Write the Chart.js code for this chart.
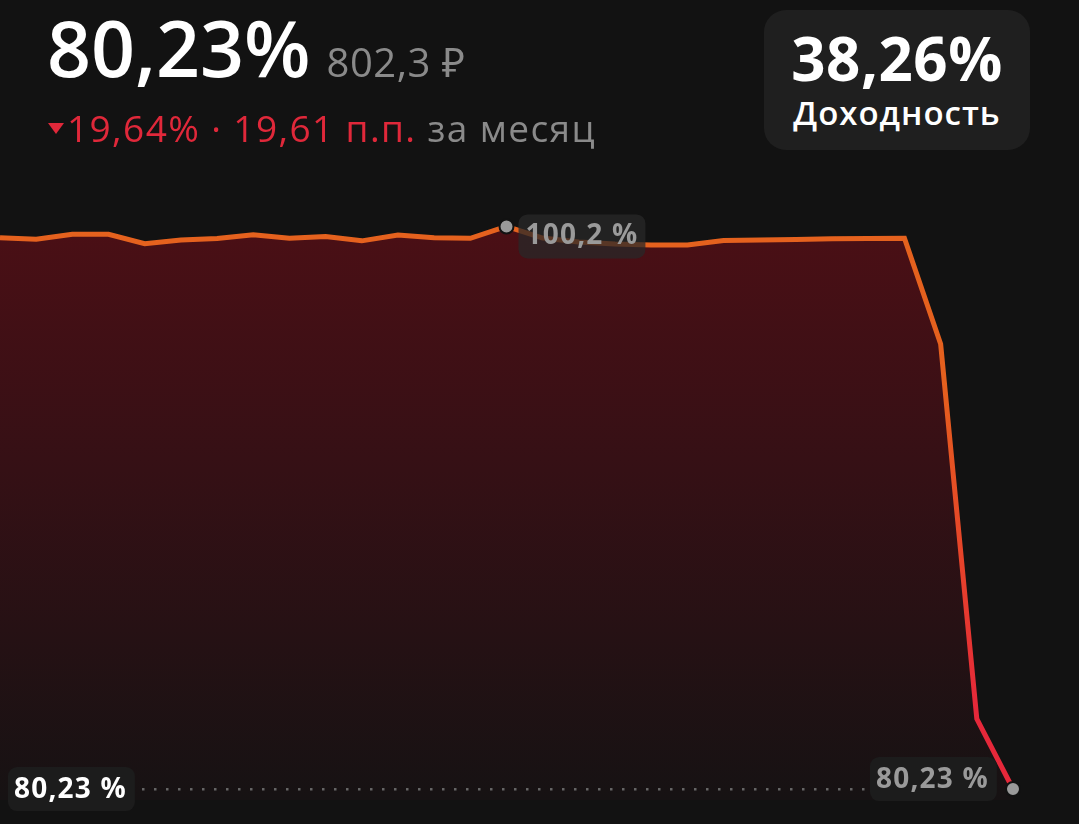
<!DOCTYPE html>
<html lang="ru">
<head>
    <meta charset="UTF-8">
    <title>Доходность</title>
    <style>
        html, body { margin: 0; padding: 0; background: #121212; }
        body { width: 1079px; height: 824px; position: relative; overflow: hidden; font-family: "Open Sans", "Noto Sans", sans-serif; }
        .chart-wrap { position: absolute; left: 0; top: 0; width: 1079px; height: 824px; }
        .value { position: absolute; left: 47px; top: -5px; color: #fff; font-size: 77px; font-weight: 600; letter-spacing: 0; white-space: nowrap; }
        .value small { font-size: 40px; font-weight: 400; color: #8a8a8a; letter-spacing: 0.5px; margin-left: 16px; }
        .change { position: absolute; left: 46px; top: 102px; font-size: 37px; font-weight: 500; color: #e0283a; white-space: nowrap; letter-spacing: 1.4px; }
        .change .tri { display: inline-block; width: 0; height: 0; border-left: 8px solid transparent; border-right: 8px solid transparent; border-top: 11px solid #e0283a; vertical-align: middle; margin: 0 3px 8px 2px; }
        .change .muted { color: #8a8a8a; font-weight: 400; }
        .badge { position: absolute; left: 764px; top: 10px; width: 266px; height: 140px; background: #1f1f1f; border-radius: 22px; color: #fff; text-align: center; }
        .badge .big { font-size: 60px; font-weight: 700; line-height: 1; margin-top: 18px; letter-spacing: 0.5px; }
        .badge .cap { font-size: 33px; font-weight: 600; margin-top: 2px; letter-spacing: 1px; }
    </style>
</head>
<body>

    <div class="chart-wrap"><canvas id="myChart" width="1079" height="824"></canvas></div>

    <div class="value">80,23%<small>802,3 ₽</small></div>
    <div class="change"><span class="tri"></span>19,64% · 19,61 п.п. <span class="muted">за месяц</span></div>
    <div class="badge">
        <div class="big">38,26%</div>
        <div class="cap">Доходность</div>
    </div>

    <script src="https://cdn.jsdelivr.net/npm/chart.js@4.4.1/dist/chart.umd.min.js"></script>
    <script>
        // days of the month
        var days = ['1', '2', '3', '4', '5', '6', '7', '8', '9', '10',
                    '11', '12', '13', '14', '15', '16', '17', '18', '19', '20',
                    '21', '22', '23', '24', '25', '26', '27', '28', '29'];
        // share of invested amount, %
        var values = [99.80, 99.75, 99.92, 99.92, 99.59, 99.72, 99.77, 99.91, 99.78, 99.84,
                      99.69, 99.90, 99.80, 99.78, 100.2, 99.79, 99.65, 99.58, 99.54, 99.54,
                      99.70, 99.72, 99.74, 99.76, 99.77, 99.78, 96.03, 82.72, 80.23];
        var maxIndex = 14;
        var lastIndex = values.length - 1;

        function fmt(v) {
            return String(v).replace('.', ',') + ' %';
        }

        function roundRect(ctx, x, y, w, h, r) {
            ctx.beginPath();
            ctx.moveTo(x + r, y);
            ctx.arcTo(x + w, y, x + w, y + h, r);
            ctx.arcTo(x + w, y + h, x, y + h, r);
            ctx.arcTo(x, y + h, x, y, r);
            ctx.arcTo(x, y, x + w, y, r);
            ctx.closePath();
        }

        // dotted line + value labels
        var labelsPlugin = {
            id: 'labels',
            afterDatasetsDraw: function (chart) {
                var ctx = chart.ctx;
                var xs = chart.scales.x, ys = chart.scales.y;
                var yLast = ys.getPixelForValue(values[lastIndex]);
                var xLast = xs.getPixelForValue(lastIndex);
                var xMax = xs.getPixelForValue(maxIndex);
                var yMax = ys.getPixelForValue(values[maxIndex]);

                ctx.save();
                ctx.font = '700 28px "Open Sans", sans-serif';
                ctx.letterSpacing = '1.2px';
                ctx.textBaseline = 'middle';

                // dotted guide
                ctx.fillStyle = '#666666';
                for (var x = 142; x < xLast - 145; x += 12) {
                    ctx.fillRect(x, yLast - 1, 2.5, 2.5);
                }

                // left label
                var t = fmt(values[lastIndex]);
                var w = ctx.measureText(t).width;
                ctx.fillStyle = '#1c1c1c';
                roundRect(ctx, 8, yLast - 22, w + 14, 44, 9);
                ctx.fill();
                ctx.fillStyle = '#ffffff';
                ctx.fillText(t, 14, yLast + 1);

                // right label
                ctx.fillStyle = '#1c1c1c';
                roundRect(ctx, xLast - 143, yLast - 32, w + 14, 44, 9);
                ctx.fill();
                ctx.fillStyle = '#9a9a9a';
                ctx.fillText(t, xLast - 137, yLast - 9);

                // max label
                var tm = fmt(values[maxIndex]);
                var wm = ctx.measureText(tm).width;
                ctx.fillStyle = 'rgba(40,40,40,0.75)';
                roundRect(ctx, xMax + 12, yMax - 12, wm + 14, 44, 9);
                ctx.fill();
                ctx.fillStyle = '#9a9a9a';
                ctx.fillText(tm, xMax + 19, yMax + 10);
                ctx.restore();
            }
        };

        function createChart() {
            var ctx = document.getElementById('myChart').getContext('2d');
            var myChart = new Chart(ctx, {
                type: 'line',
                data: {
                    labels: days,
                    datasets: [{
                        data: values,
                        borderWidth: 5,
                        tension: 0,
                        fill: 'start',
                        borderColor: function (c) {
                            var a = c.chart.chartArea;
                            if (!a) return '#e5621e';
                            var g = c.chart.ctx.createLinearGradient(0, a.top, 0, a.bottom);
                            g.addColorStop(0, '#e5621e');
                            g.addColorStop(0.3, '#e5601e');
                            g.addColorStop(0.6, '#e6432a');
                            g.addColorStop(0.85, '#e6283a');
                            g.addColorStop(1, '#e6283a');
                            return g;
                        },
                        backgroundColor: function (c) {
                            var a = c.chart.chartArea;
                            if (!a) return '#3a0e12';
                            var g = c.chart.ctx.createLinearGradient(0, a.top, 0, a.bottom);
                            g.addColorStop(0, '#4d0f15');
                            g.addColorStop(0.45, '#351015');
                            g.addColorStop(1, '#161213');
                            return g;
                        },
                        pointRadius: values.map(function (v, i) { return (i === maxIndex || i === lastIndex) ? 7 : 0; }),
                        pointBackgroundColor: '#9a9a9a',
                        pointBorderColor: '#121212',
                        pointBorderWidth: 2,
                        pointHoverRadius: 0
                    }]
                },
                options: {
                    responsive: false,
                    animation: false,
                    layout: { autoPadding: false, padding: { left: 0, right: 66, top: 200, bottom: 24 } },
                    plugins: { legend: { display: false }, tooltip: { enabled: false } },
                    scales: {
                        x: { display: false, offset: false },
                        y: { display: false, min: 79.84, max: 101.14 }
                    }
                },
                plugins: [labelsPlugin]
            });
        }
        createChart();
    </script>

</body>
</html>
